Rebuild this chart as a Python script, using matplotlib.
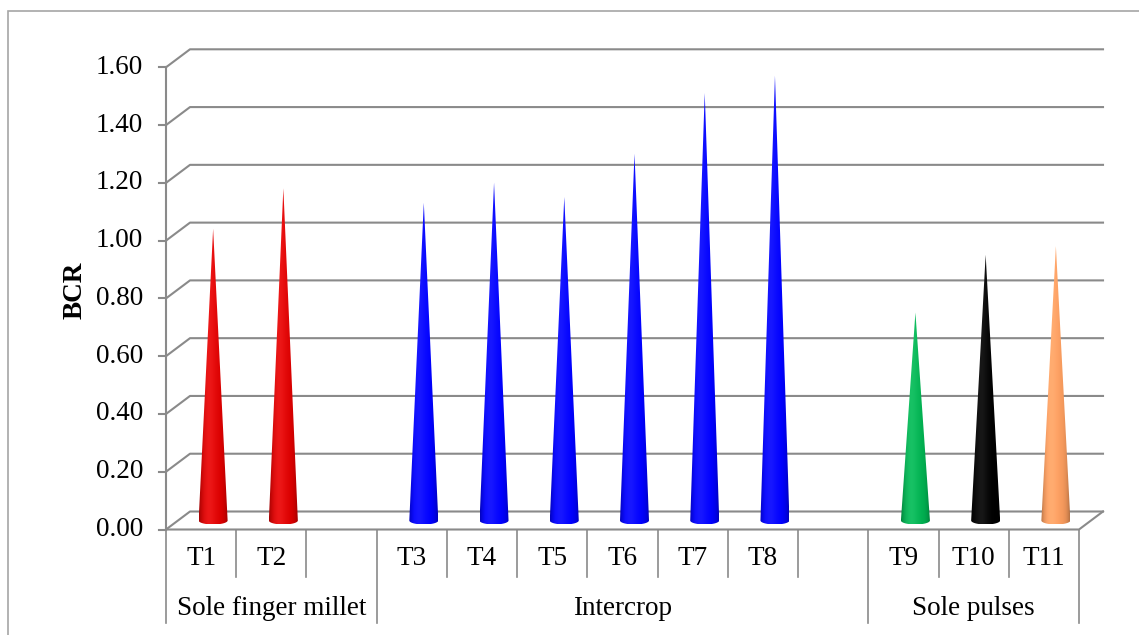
import numpy as np
import matplotlib.pyplot as plt
from matplotlib.patches import Polygon, Rectangle

plt.rcParams['font.family'] = ['Liberation Serif', 'DejaVu Serif']

# 数据
categories = ['T1', 'T2', '', 'T3', 'T4', 'T5', 'T6', 'T7', 'T8', '', 'T9', 'T10', 'T11']
bcr = [1.01, 1.15, None, 1.10, 1.17, 1.12, 1.27, 1.48, 1.54, None, 0.72, 0.92, 0.95]
colors = ['#DC0000', '#DC0000', None, '#0000FF', '#0000FF', '#0000FF', '#0000FF',
          '#0000FF', '#0000FF', None, '#00B050', '#000000', '#F79A5C']
groups = ['Sole finger millet', 'Intercrop', 'Sole pulses']
group_sizes = [3, 7, 3]
yticks = [0.0, 0.2, 0.4, 0.6, 0.8, 1.0, 1.2, 1.4, 1.6]

W, H = 1139, 635
fig = plt.figure(figsize=(W / 100, H / 100), dpi=100)
ax = fig.add_axes([166 / W, 105.5 / H, 913 / W, 462.2 / H])
n = len(categories)
ax.set_xlim(-0.5, n - 0.5)
ax.set_ylim(0, 1.6)
ax.axis('off')

grid_c = '#8A8A8A'
fs = 19.5


def px(dxp, dyp):
    # 像素偏移 -> 数据坐标偏移
    inv = ax.transData.inverted()
    p0 = inv.transform((0, 0))
    p1 = inv.transform((dxp, dyp))
    return p1[0] - p0[0], p1[1] - p0[1]


dx, dy = px(24, 18)  # 景深
x0, x1 = -0.5, n - 0.5

# 背景网格线（带透视）
for v in yticks:
    ax.plot([x0, x0 + dx, x1 + dx], [v, v + dy, v + dy], color=grid_c, lw=1.5,
            clip_on=False, zorder=1)
    tx, _ = px(-7, 0)
    ax.plot([x0 + tx, x0], [v, v], color=grid_c, lw=1.5, clip_on=False, zorder=1)
    lx, _ = px(-23, 0)
    ax.text(x0 + lx, v, '%.2f' % v, ha='right', va='center', fontsize=fs)

# 前轴线和底面
ax.plot([x0, x0], [0, 1.6], color=grid_c, lw=1.5, clip_on=False, zorder=1)
ax.plot([x0, x1, x1 + dx], [0, 0, dy], color=grid_c, lw=1.5, clip_on=False, zorder=1)

# 分类轴（两级）
_, r1 = px(0, -47)
_, r2 = px(0, -93)
_, lab1 = px(0, -29)
_, lab2 = px(0, -79)
bounds = np.cumsum([0] + group_sizes)
for k in range(n + 1):
    bottom = r2 if k in bounds else r1
    ax.plot([x0 + k, x0 + k], [0, bottom], color=grid_c, lw=1.2, clip_on=False)
for i, c in enumerate(categories):
    ax.text(i, lab1, c, ha='center', va='center', fontsize=fs)
for g, s, e in zip(groups, bounds[:-1], bounds[1:]):
    ax.text(x0 + (s + e) / 2, lab2, g, ha='center', va='center', fontsize=fs)

ax.text(x0 + px(-91, 0)[0], 0.8 + px(0, 8)[1], 'BCR', rotation=90, ha='center',
        va='center', fontsize=fs, fontweight='bold')

# 圆锥
hw, _ = px(14.5, 0)
_, eh = px(0, 4)
t = np.linspace(-1, 1, 200)
g = np.exp(-((t + 0.3) / 0.5) ** 2)
edge = 1 - t ** 4
for i, (v, c) in enumerate(zip(bcr, colors)):
    if v is None:
        continue
    cx, cy = i + dx / 2, dy / 2
    base = np.array(plt.matplotlib.colors.to_rgb(c))
    shade = (0.72 + 0.28 * edge)[:, None] * base[None, :] + 0.09 * g[:, None] * (1 - base)[None, :]
    shade = np.clip(shade + 0.06 * g[:, None] * base[None, :], 0, 1)
    img = shade[None, :, :]
    ang = np.linspace(np.pi, 2 * np.pi, 40)
    bx = cx + hw * np.cos(ang)
    by = cy + eh * np.sin(ang)
    pts = [(cx, cy + v)] + list(zip(bx, by))
    poly = Polygon(pts, closed=True, facecolor='none', edgecolor='none')
    ax.add_patch(poly)
    im = ax.imshow(img, extent=(cx - hw, cx + hw, cy - eh, cy + v), aspect='auto',
                   interpolation='bilinear', zorder=3)
    im.set_clip_path(poly)

ax.set_xlim(-0.5, n - 0.5)
ax.set_ylim(0, 1.6)

# 外边框
fig.add_artist(Rectangle((8 / W, -0.05), 1.1, 1 - 11 / H + 0.05, transform=fig.transFigure,
                         fill=False, edgecolor='#A6A6A6', lw=1.2))

fig.savefig('out.png', dpi=100)
